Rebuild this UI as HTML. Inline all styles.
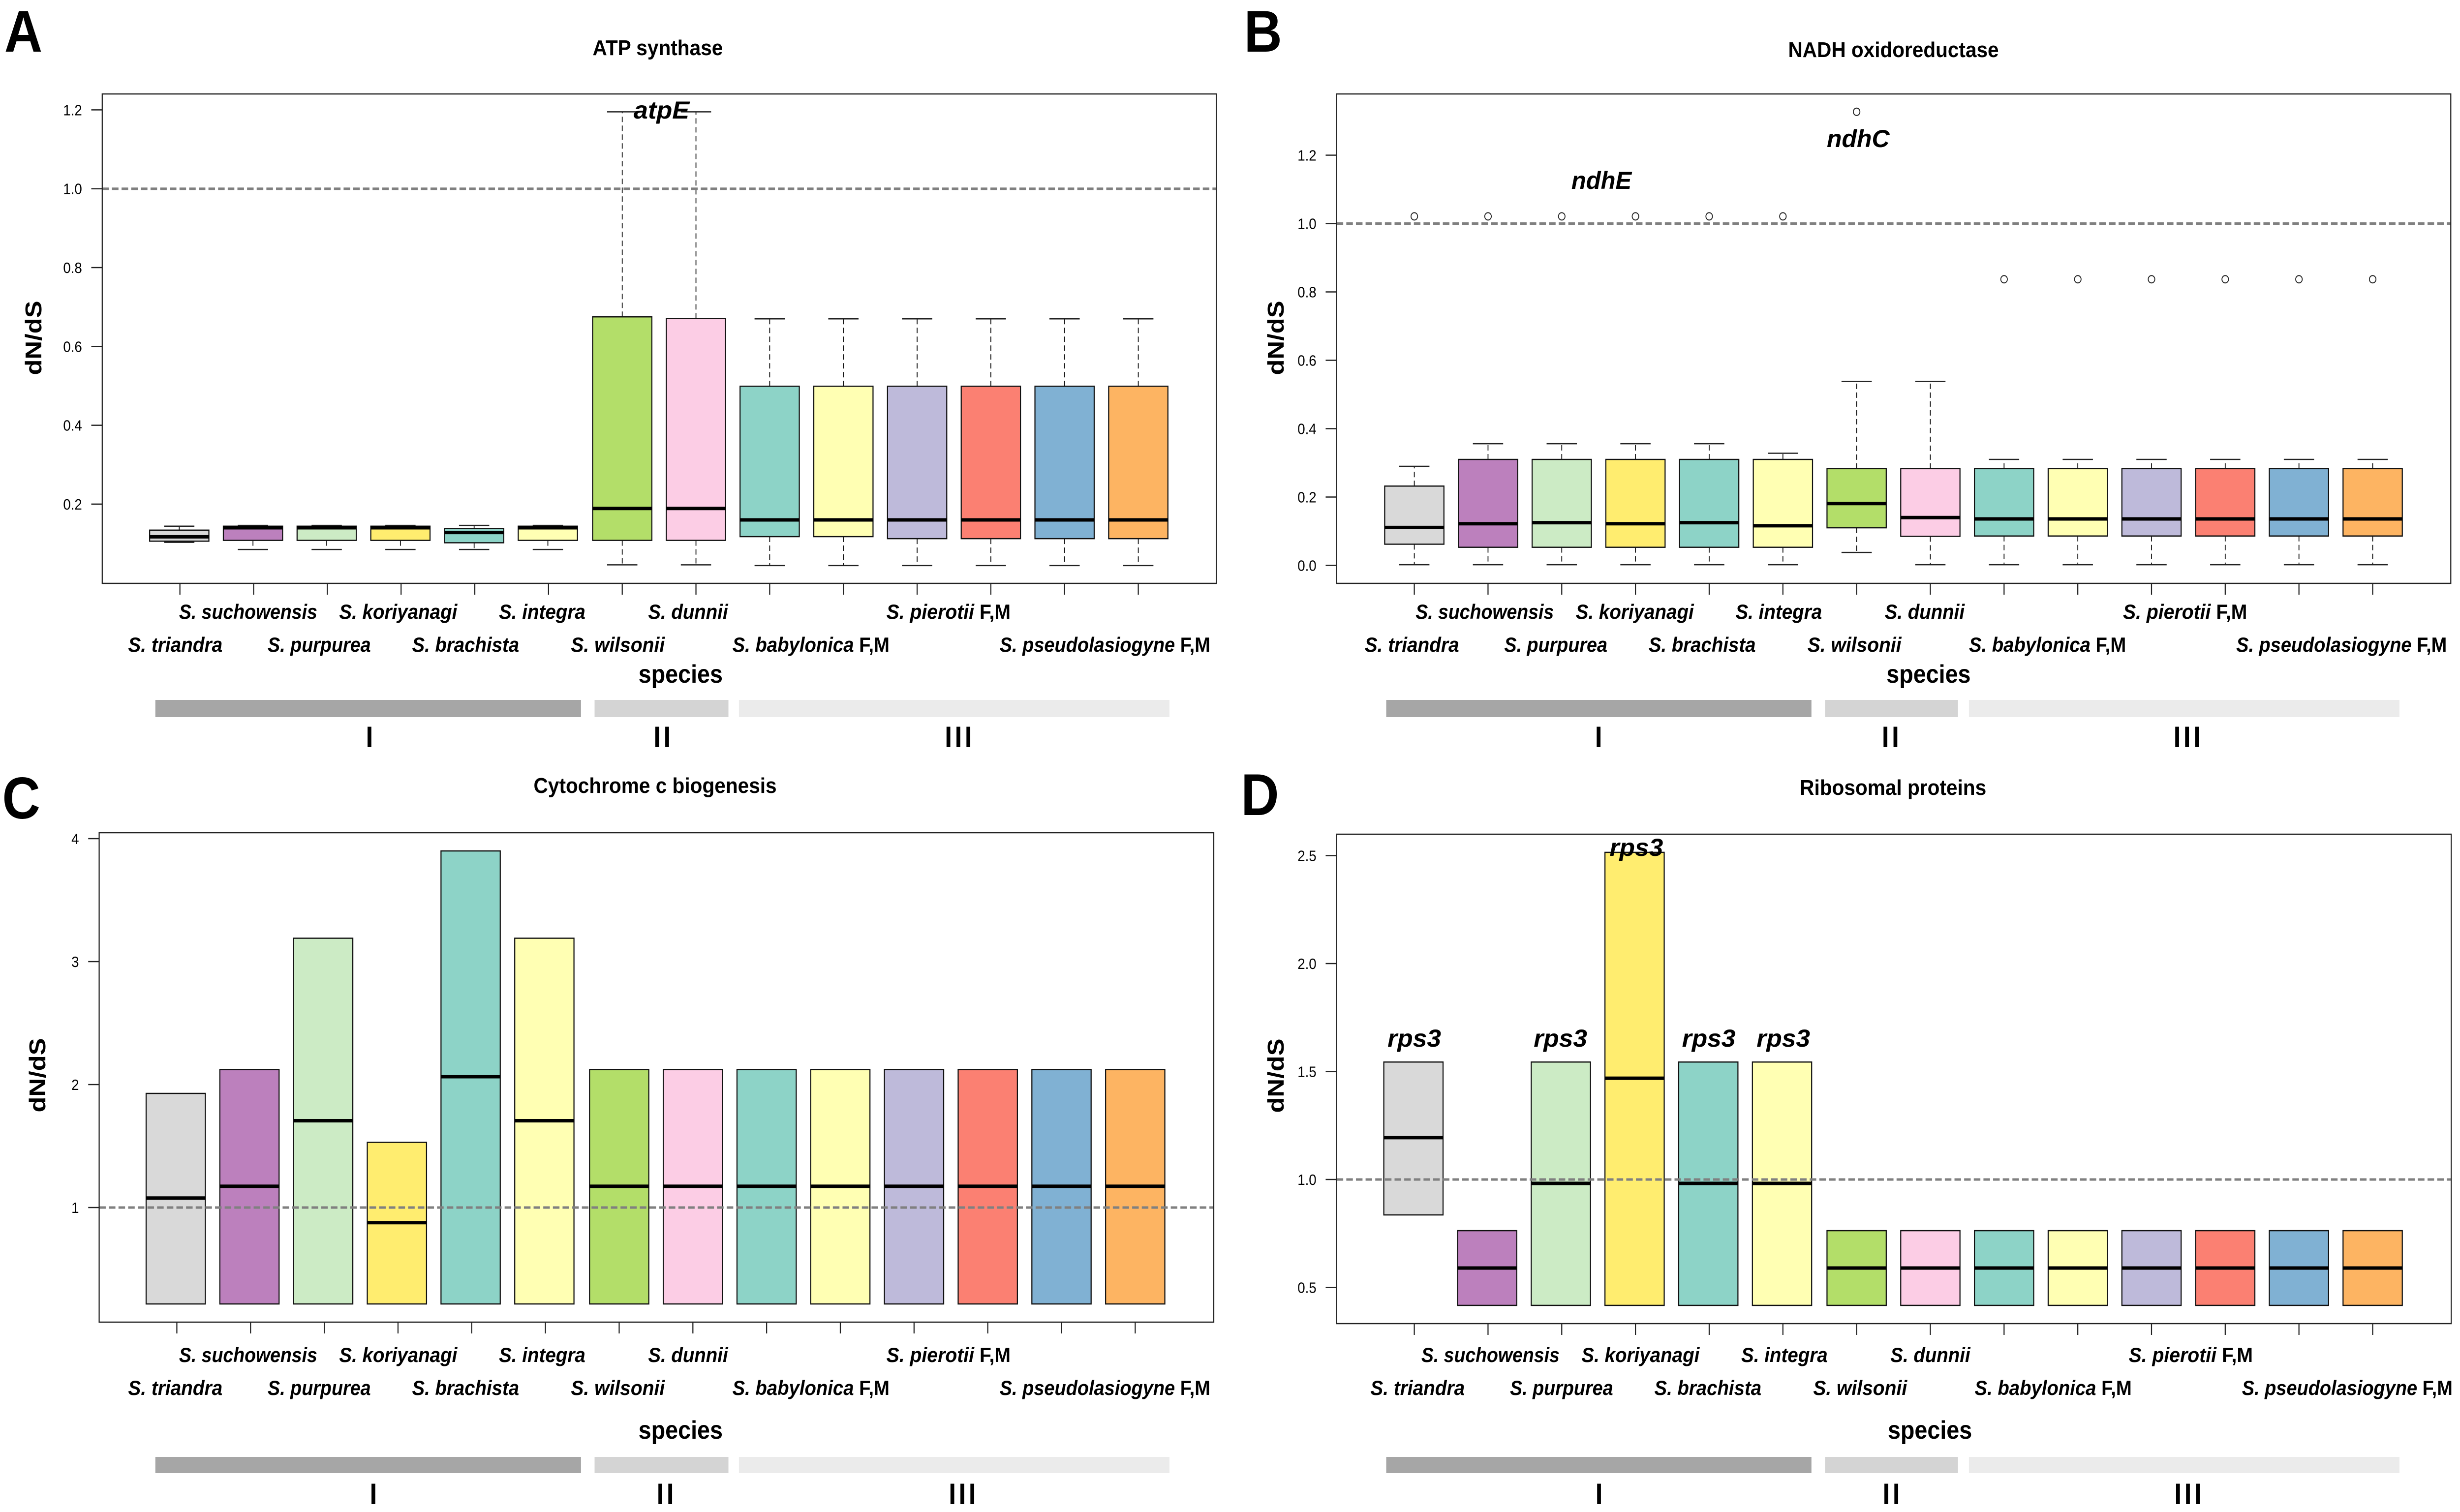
<!DOCTYPE html>
<html lang="en">
<head>
<meta charset="utf-8">
<title>dN/dS by species</title>
<style>
html,body{margin:0;padding:0;background:#fff;overflow:hidden;width:100vw;height:100vh}
svg{display:block;width:100vw;height:100vh}
text{font-family:"Liberation Sans",sans-serif;fill:#000}
.letter{font-size:120px;font-weight:700}
.title{font-size:44px;font-weight:700;text-anchor:middle}
.ylab{font-size:52px;font-weight:700;text-anchor:middle}
.sp{font-size:42px;font-weight:700;font-style:italic}
.sp tspan{font-style:normal}
.xlab{font-size:52px;font-weight:700}
.num{font-size:60px;font-weight:700;text-anchor:middle;letter-spacing:6px}
.gene{font-size:50px;font-weight:700;font-style:italic}
</style>
</head>
<body>
<svg xmlns="http://www.w3.org/2000/svg" width="5606" height="3074" viewBox="0 0 5606 3074" preserveAspectRatio="none">
<rect x="0" y="0" width="5606" height="3074" fill="#ffffff"/>

<g id="marks"></g>

<g>
<text class="letter" x="10" y="105">A</text>
<text class="letter" x="2835" y="105">B</text>
<text class="letter" x="5" y="1664">C</text>
<text class="letter" x="2828" y="1657">D</text>
</g>

<g>
<text class="title" x="1499" y="112" textLength="297" lengthAdjust="spacingAndGlyphs">ATP synthase</text>
<text class="title" x="4315" y="116" textLength="480" lengthAdjust="spacingAndGlyphs">NADH oxidoreductase</text>
<text class="title" x="1493" y="1612" textLength="554" lengthAdjust="spacingAndGlyphs">Cytochrome c biogenesis</text>
<text class="title" x="4314" y="1616" textLength="425" lengthAdjust="spacingAndGlyphs">Ribosomal proteins</text>
</g>

<g>
<text class="ylab" transform="translate(94 687) rotate(-90)" textLength="151" lengthAdjust="spacingAndGlyphs">dN/dS</text>
<text class="ylab" transform="translate(2925 687) rotate(-90)" textLength="151" lengthAdjust="spacingAndGlyphs">dN/dS</text>
<text class="ylab" transform="translate(103 2186) rotate(-90)" textLength="151" lengthAdjust="spacingAndGlyphs">dN/dS</text>
<text class="ylab" transform="translate(2925 2187) rotate(-90)" textLength="151" lengthAdjust="spacingAndGlyphs">dN/dS</text>
</g>

<g>
<text class="sp" x="408" y="1258" textLength="315" lengthAdjust="spacingAndGlyphs">S. suchowensis</text>
<text class="sp" x="773" y="1258" textLength="269" lengthAdjust="spacingAndGlyphs">S. koriyanagi</text>
<text class="sp" x="1137" y="1258" textLength="197" lengthAdjust="spacingAndGlyphs">S. integra</text>
<text class="sp" x="1477" y="1258" textLength="182" lengthAdjust="spacingAndGlyphs">S. dunnii</text>
<text class="sp" x="2020" y="1258" textLength="283" lengthAdjust="spacingAndGlyphs">S. pierotii <tspan>F,M</tspan></text>
<text class="sp" x="292" y="1325" textLength="215" lengthAdjust="spacingAndGlyphs">S. triandra</text>
<text class="sp" x="610" y="1325" textLength="235" lengthAdjust="spacingAndGlyphs">S. purpurea</text>
<text class="sp" x="939" y="1325" textLength="244" lengthAdjust="spacingAndGlyphs">S. brachista</text>
<text class="sp" x="1301" y="1325" textLength="214" lengthAdjust="spacingAndGlyphs">S. wilsonii</text>
<text class="sp" x="1669" y="1325" textLength="358" lengthAdjust="spacingAndGlyphs">S. babylonica <tspan>F,M</tspan></text>
<text class="sp" x="2278" y="1325" textLength="480" lengthAdjust="spacingAndGlyphs">S. pseudolasiogyne <tspan>F,M</tspan></text>
</g>
<g>
<text class="sp" x="3226" y="1258" textLength="315" lengthAdjust="spacingAndGlyphs">S. suchowensis</text>
<text class="sp" x="3591" y="1258" textLength="269" lengthAdjust="spacingAndGlyphs">S. koriyanagi</text>
<text class="sp" x="3955" y="1258" textLength="197" lengthAdjust="spacingAndGlyphs">S. integra</text>
<text class="sp" x="4295" y="1258" textLength="182" lengthAdjust="spacingAndGlyphs">S. dunnii</text>
<text class="sp" x="4838" y="1258" textLength="283" lengthAdjust="spacingAndGlyphs">S. pierotii <tspan>F,M</tspan></text>
<text class="sp" x="3110" y="1325" textLength="215" lengthAdjust="spacingAndGlyphs">S. triandra</text>
<text class="sp" x="3428" y="1325" textLength="235" lengthAdjust="spacingAndGlyphs">S. purpurea</text>
<text class="sp" x="3757" y="1325" textLength="244" lengthAdjust="spacingAndGlyphs">S. brachista</text>
<text class="sp" x="4119" y="1325" textLength="214" lengthAdjust="spacingAndGlyphs">S. wilsonii</text>
<text class="sp" x="4487" y="1325" textLength="358" lengthAdjust="spacingAndGlyphs">S. babylonica <tspan>F,M</tspan></text>
<text class="sp" x="5096" y="1325" textLength="480" lengthAdjust="spacingAndGlyphs">S. pseudolasiogyne <tspan>F,M</tspan></text>
</g>
<g>
<text class="sp" x="408" y="2769" textLength="315" lengthAdjust="spacingAndGlyphs">S. suchowensis</text>
<text class="sp" x="773" y="2769" textLength="269" lengthAdjust="spacingAndGlyphs">S. koriyanagi</text>
<text class="sp" x="1137" y="2769" textLength="197" lengthAdjust="spacingAndGlyphs">S. integra</text>
<text class="sp" x="1477" y="2769" textLength="182" lengthAdjust="spacingAndGlyphs">S. dunnii</text>
<text class="sp" x="2020" y="2769" textLength="283" lengthAdjust="spacingAndGlyphs">S. pierotii <tspan>F,M</tspan></text>
<text class="sp" x="292" y="2836" textLength="215" lengthAdjust="spacingAndGlyphs">S. triandra</text>
<text class="sp" x="610" y="2836" textLength="235" lengthAdjust="spacingAndGlyphs">S. purpurea</text>
<text class="sp" x="939" y="2836" textLength="244" lengthAdjust="spacingAndGlyphs">S. brachista</text>
<text class="sp" x="1301" y="2836" textLength="214" lengthAdjust="spacingAndGlyphs">S. wilsonii</text>
<text class="sp" x="1669" y="2836" textLength="358" lengthAdjust="spacingAndGlyphs">S. babylonica <tspan>F,M</tspan></text>
<text class="sp" x="2278" y="2836" textLength="480" lengthAdjust="spacingAndGlyphs">S. pseudolasiogyne <tspan>F,M</tspan></text>
</g>
<g>
<text class="sp" x="3239" y="2769" textLength="315" lengthAdjust="spacingAndGlyphs">S. suchowensis</text>
<text class="sp" x="3604" y="2769" textLength="269" lengthAdjust="spacingAndGlyphs">S. koriyanagi</text>
<text class="sp" x="3968" y="2769" textLength="197" lengthAdjust="spacingAndGlyphs">S. integra</text>
<text class="sp" x="4308" y="2769" textLength="182" lengthAdjust="spacingAndGlyphs">S. dunnii</text>
<text class="sp" x="4851" y="2769" textLength="283" lengthAdjust="spacingAndGlyphs">S. pierotii <tspan>F,M</tspan></text>
<text class="sp" x="3123" y="2836" textLength="215" lengthAdjust="spacingAndGlyphs">S. triandra</text>
<text class="sp" x="3441" y="2836" textLength="235" lengthAdjust="spacingAndGlyphs">S. purpurea</text>
<text class="sp" x="3770" y="2836" textLength="244" lengthAdjust="spacingAndGlyphs">S. brachista</text>
<text class="sp" x="4132" y="2836" textLength="214" lengthAdjust="spacingAndGlyphs">S. wilsonii</text>
<text class="sp" x="4500" y="2836" textLength="358" lengthAdjust="spacingAndGlyphs">S. babylonica <tspan>F,M</tspan></text>
<text class="sp" x="5109" y="2836" textLength="480" lengthAdjust="spacingAndGlyphs">S. pseudolasiogyne <tspan>F,M</tspan></text>
</g>

<g>
<text class="xlab" x="1455" y="1388" textLength="192" lengthAdjust="spacingAndGlyphs">species</text>
<text class="xlab" x="4299" y="1388" textLength="192" lengthAdjust="spacingAndGlyphs">species</text>
<text class="xlab" x="1455" y="2925" textLength="192" lengthAdjust="spacingAndGlyphs">species</text>
<text class="xlab" x="4302" y="2925" textLength="192" lengthAdjust="spacingAndGlyphs">species</text>
</g>

<g>
<rect x="354" y="1423" width="970" height="35" fill="#a6a6a6"/>
<rect x="1355" y="1423" width="305" height="35" fill="#d4d4d4"/>
<rect x="1684" y="1423" width="981" height="35" fill="#ebebeb"/>
<rect x="3159" y="1423" width="969" height="35" fill="#a6a6a6"/>
<rect x="4159" y="1423" width="303" height="35" fill="#d4d4d4"/>
<rect x="4487" y="1423" width="981" height="35" fill="#ebebeb"/>
<rect x="354" y="2962" width="970" height="33" fill="#a6a6a6"/>
<rect x="1355" y="2962" width="305" height="33" fill="#d4d4d4"/>
<rect x="1684" y="2962" width="981" height="33" fill="#ebebeb"/>
<rect x="3159" y="2962" width="969" height="33" fill="#a6a6a6"/>
<rect x="4159" y="2962" width="303" height="33" fill="#d4d4d4"/>
<rect x="4487" y="2962" width="981" height="33" fill="#ebebeb"/>
</g>

<g>
<text class="num" x="845" y="1519">I</text>
<text class="num" x="1512" y="1519">II</text>
<text class="num" x="2187" y="1519">III</text>
<text class="num" x="3646" y="1519">I</text>
<text class="num" x="4311" y="1519">II</text>
<text class="num" x="4987" y="1519">III</text>
<text class="num" x="854" y="3058">I</text>
<text class="num" x="1519" y="3058">II</text>
<text class="num" x="2196" y="3058">III</text>
<text class="num" x="3647" y="3058">I</text>
<text class="num" x="4313" y="3058">II</text>
<text class="num" x="4989" y="3058">III</text>
</g>

<g>
<text class="gene" x="1444" y="241" textLength="127" lengthAdjust="spacingAndGlyphs">atpE</text>
<text class="gene" x="3581" y="384" textLength="137" lengthAdjust="spacingAndGlyphs">ndhE</text>
<text class="gene" x="4163" y="299" textLength="143" lengthAdjust="spacingAndGlyphs">ndhC</text>
<text class="gene" x="3162" y="2128" textLength="122" lengthAdjust="spacingAndGlyphs">rps3</text>
<text class="gene" x="3495" y="2128" textLength="122" lengthAdjust="spacingAndGlyphs">rps3</text>
<text class="gene" x="3668" y="1740" textLength="122" lengthAdjust="spacingAndGlyphs">rps3</text>
<text class="gene" x="3833" y="2128" textLength="122" lengthAdjust="spacingAndGlyphs">rps3</text>
<text class="gene" x="4003" y="2128" textLength="122" lengthAdjust="spacingAndGlyphs">rps3</text>
</g>
</svg>

<script>
const categories = ['triandra','suchowensis','purpurea','koriyanagi','brachista','integra','wilsonii','dunnii','babylonica','babylonica-2','pierotii','pierotii-2','pseudolasiogyne','pseudolasiogyne-2'];
const fillColors = ['#D9D9D9','#BC80BD','#CCEBC5','#FFED6F','#8DD3C7','#FFFFB3','#B3DE69','#FCCDE5','#8DD3C7','#FFFFB3','#BEBADA','#FB8072','#80B1D3','#FDB462'];

const atpTickLabels = ['0.2','0.4','0.6','0.8','1.0','1.2'];
const atpQ1 = [0.106,0.108,0.108,0.108,0.102,0.108,0.108,0.108,0.1175,0.1175,0.1124,0.1124,0.1124,0.1124];
const atpMedian = [0.117,0.14,0.14,0.14,0.128,0.14,0.189,0.189,0.16,0.16,0.16,0.16,0.16,0.16];
const atpQ3 = [0.134,0.144,0.144,0.144,0.138,0.144,0.675,0.671,0.499,0.499,0.499,0.499,0.499,0.499];
const atpLow = [0.103,0.085,0.085,0.085,0.085,0.085,0.046,0.046,0.044,0.044,0.044,0.044,0.044,0.044];
const atpHigh = [0.144,0.146,0.146,0.146,0.146,0.146,1.195,1.195,0.67,0.67,0.67,0.67,0.67,0.67];

const ndhTickLabels = ['0.0','0.2','0.4','0.6','0.8','1.0','1.2'];
const ndhQ1 = [0.062,0.053,0.053,0.053,0.053,0.053,0.11,0.085,0.086,0.086,0.086,0.086,0.086,0.086];
const ndhMedian = [0.111,0.122,0.125,0.122,0.125,0.116,0.181,0.14,0.136,0.136,0.136,0.136,0.136,0.136];
const ndhQ3 = [0.232,0.31,0.31,0.31,0.31,0.31,0.283,0.283,0.283,0.283,0.283,0.283,0.283,0.283];
const ndhLow = [0.002,0.002,0.002,0.002,0.002,0.002,0.038,0.002,0.002,0.002,0.002,0.002,0.002,0.002];
const ndhHigh = [0.29,0.356,0.356,0.356,0.356,0.328,0.538,0.538,0.31,0.31,0.31,0.31,0.31,0.31];
const ndhOutliers = [1.021,1.021,1.021,1.021,1.021,1.021,1.327,null,0.837,0.837,0.837,0.837,0.837,0.837];

const cytTickLabels = ['1','2','3','4'];
const cytQ1 = [0.216,0.216,0.216,0.216,0.216,0.216,0.216,0.216,0.216,0.216,0.216,0.216,0.216,0.216];
const cytMedian = [1.077,1.173,1.706,0.877,2.064,1.706,1.173,1.173,1.173,1.173,1.173,1.173,1.173,1.173];
const cytQ3 = [1.928,2.123,3.19,1.53,3.9,3.19,2.123,2.123,2.123,2.123,2.123,2.123,2.123,2.123];

const rpsTickLabels = ['0.5','1.0','1.5','2.0','2.5'];
const rpsQ1 = [0.836,0.417,0.417,0.417,0.417,0.417,0.417,0.417,0.417,0.417,0.417,0.417,0.417,0.417];
const rpsMedian = [1.194,0.59,0.982,1.469,0.982,0.982,0.59,0.59,0.59,0.59,0.59,0.59,0.59,0.59];
const rpsQ3 = [1.544,0.763,1.544,2.515,1.544,1.544,0.763,0.763,0.763,0.763,0.763,0.763,0.763,0.763];

const NS = 'http://www.w3.org/2000/svg';
const marksLayer = document.getElementById('marks');
const BOX_W = 135, CAP_W = 69, STEP = 168;

function shape(parent, tag, attrs) {
  const el = document.createElementNS(NS, tag);
  for (const k in attrs) el.setAttribute(k, attrs[k]);
  parent.appendChild(el);
  return el;
}

function drawPanel(p) {
  const yScale = v => p.yOne - (v - 1) * p.pxPerUnit;
  const tickX = i => p.x0 + STEP * i;
  const boxX = i => tickX(i) + (i < 6 ? p.firstGroupShift : 0);

  const g = shape(marksLayer, 'g', {});
  
  

  categories.forEach((cat, i) => {
    const cx = boxX(i);
    if (p.low && p.high) {
      const whiskerHigh = shape(g, 'line', {x1: cx, x2: cx, y1: yScale(p.q3[i]), y2: yScale(p.high[i]), stroke: '#111', 'stroke-width': 2, 'stroke-dasharray': '11 7'});
      
      
      const whiskerLow = shape(g, 'line', {x1: cx, x2: cx, y1: yScale(p.q1[i]), y2: yScale(p.low[i]), stroke: '#111', 'stroke-width': 2, 'stroke-dasharray': '11 7'});
      
      
      const capHigh = shape(g, 'line', {x1: cx - CAP_W / 2, x2: cx + CAP_W / 2, y1: yScale(p.high[i]), y2: yScale(p.high[i]), stroke: '#222', 'stroke-width': 2.5});
      
      
      const capLow = shape(g, 'line', {x1: cx - CAP_W / 2, x2: cx + CAP_W / 2, y1: yScale(p.low[i]), y2: yScale(p.low[i]), stroke: '#222', 'stroke-width': 2.5});
      
      
    }
    const box = shape(g, 'rect', {x: cx - BOX_W / 2, y: yScale(p.q3[i]), width: BOX_W, height: yScale(p.q1[i]) - yScale(p.q3[i]), fill: fillColors[i], stroke: '#111', 'stroke-width': 2.5});
    
    
    const median = shape(g, 'line', {x1: cx - BOX_W / 2, x2: cx + BOX_W / 2, y1: yScale(p.median[i]), y2: yScale(p.median[i]), stroke: '#000', 'stroke-width': 7});
    
    
    if (p.outliers && p.outliers[i] !== null) {
      const outlier = shape(g, 'circle', {cx: cx, cy: yScale(p.outliers[i]), r: 7.5, fill: 'none', stroke: '#222', 'stroke-width': 2});
      
      
    }
    const xTick = shape(g, 'line', {x1: tickX(i), x2: tickX(i), y1: p.bottom, y2: p.bottom + 23, stroke: '#222', 'stroke-width': 2.5});
    
    
  });

  const refLine = shape(g, 'line', {x1: p.left, x2: p.right, y1: yScale(1), y2: yScale(1), stroke: '#808080', 'stroke-width': 5, 'stroke-dasharray': '15 7'});
  
  

  const frame = shape(g, 'rect', {x: p.left, y: p.top, width: p.right - p.left, height: p.bottom - p.top, fill: 'none', stroke: '#222', 'stroke-width': 2.5});
  
  

  p.tickLabels.forEach(label => {
    const y = yScale(parseFloat(label));
    const yTick = shape(g, 'line', {x1: p.left - 25, x2: p.left, y1: y, y2: y, stroke: '#222', 'stroke-width': 2.5});
    
    
    const yLabel = shape(g, 'text', {x: p.left - 46, y: y + 11, 'text-anchor': 'end', 'font-size': 31});
    
    
    yLabel.textContent = label;
  });
}

drawPanel({id: 'atp-synthase', left: 233, right: 2772, top: 191, bottom: 1186, x0: 410, firstGroupShift: -1.5, yOne: 383.7, pxPerUnit: 801.5, tickLabels: atpTickLabels, q1: atpQ1, median: atpMedian, q3: atpQ3, low: atpLow, high: atpHigh});
drawPanel({id: 'nadh-oxidoreductase', left: 3046, right: 5585, top: 191, bottom: 1186, x0: 3223, firstGroupShift: 0, yOne: 454.5, pxPerUnit: 695, tickLabels: ndhTickLabels, q1: ndhQ1, median: ndhMedian, q3: ndhQ3, low: ndhLow, high: ndhHigh, outliers: ndhOutliers});
drawPanel({id: 'cytochrome-c-biogenesis', left: 226, right: 2766, top: 1693, bottom: 2688, x0: 403, firstGroupShift: -2.5, yOne: 2455, pxPerUnit: 250, tickLabels: cytTickLabels, q1: cytQ1, median: cytMedian, q3: cytQ3});
drawPanel({id: 'ribosomal-proteins', left: 3046, right: 5586, top: 1696, bottom: 2691, x0: 3223, firstGroupShift: -2, yOne: 2398, pxPerUnit: 439, tickLabels: rpsTickLabels, q1: rpsQ1, median: rpsMedian, q3: rpsQ3});
</script>
</body>
</html>
